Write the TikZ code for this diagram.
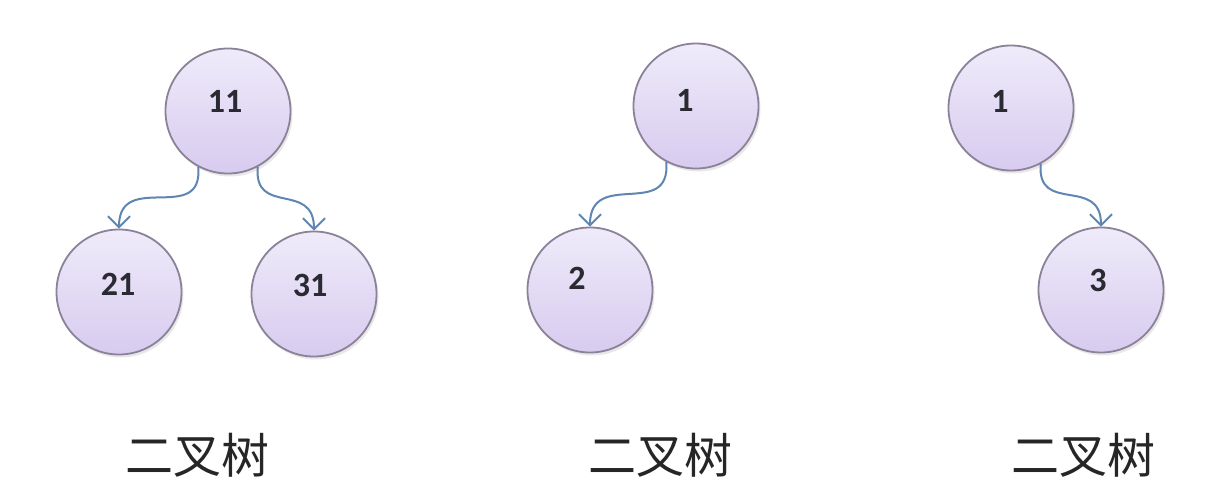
\documentclass[tikz,border=0pt]{standalone}
\usepackage{fontspec}
\setsansfont{Carlito}
\newfontfamily\cjk{Noto Sans CJK SC}
\usetikzlibrary{arrows.meta,shadows}
\definecolor{ringc}{HTML}{8C8298}
\definecolor{topc}{HTML}{EFEBFA}
\definecolor{botc}{HTML}{D7CBEF}
\definecolor{arrc}{HTML}{5F86B2}
\definecolor{numc}{HTML}{2A2A32}
\tikzset{
  treenode/.style={circle, draw=ringc, line width=1.8pt, minimum size=125pt, inner sep=0pt,
    top color=topc, bottom color=botc,
    drop shadow={opacity=0.18, shadow xshift=2pt, shadow yshift=-3pt}},
  numtext/.style={font=\sffamily\bfseries\fontsize{34}{38}\selectfont, text=numc, inner sep=0pt},
  captext/.style={font=\cjk\fontsize{48}{52}\selectfont, text=black!85, inner sep=0pt},
  link/.style={draw=arrc, line width=2pt, -{Straight Barb[length=11pt,width=22pt,line width=2pt]}}
}
\begin{document}
\begin{tikzpicture}[x=1pt,y=-1pt]
\useasboundingbox[fill=white] (0,0) rectangle (1208,500);
% tree 1
\node[treenode] (a) at (228,111) {};
\node[treenode] (b) at (119,292) {};
\node[treenode] (c) at (314,294) {};
\node[numtext] (ta) at (225,101) {11};
\node[numtext] (tb) at (118,284) {21};
\node[numtext] (tc) at (310,285) {31};
\draw[link] (a.242) to[out=-85,in=90,looseness=1.5] (b.north);
\draw[link] (a.-62) to[out=-95,in=90,looseness=1.5] (c.north);
\node[captext] (la) at (197,455) {二叉树};
% tree 2
\node[treenode] (d) at (696,106) {};
\node[treenode] (e) at (590,290) {};
\node[numtext] (td) at (685,100) {1};
\node[numtext] (te) at (577,278) {2};
\draw[link] (d.242) to[out=-85,in=90,looseness=1.5] (e.north);
\node[captext] (lb) at (660,455) {二叉树};
% tree 3
\node[treenode] (f) at (1011,108) {};
\node[treenode] (g) at (1101,290) {};
\node[numtext] (tf) at (1000,101) {1};
\node[numtext] (tg) at (1098,280) {3};
\draw[link] (f.-62) to[out=-95,in=90,looseness=1.5] (g.north);
\node[captext] (lc) at (1083,455) {二叉树};
\end{tikzpicture}
\end{document}
